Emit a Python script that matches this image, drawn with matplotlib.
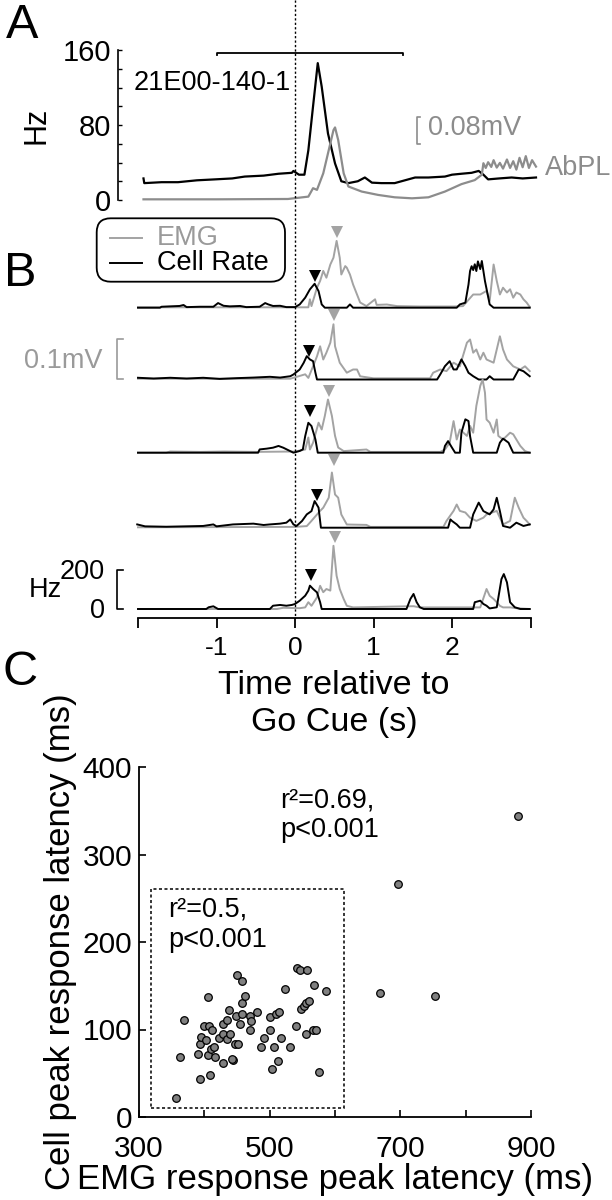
import matplotlib
matplotlib.use("Agg")
import matplotlib.pyplot as plt
import matplotlib.transforms as mtransforms
from matplotlib.patches import FancyBboxPatch, Rectangle
from matplotlib.lines import Line2D

plt.rcParams['font.family'] = ['Liberation Sans', 'DejaVu Sans']

# ---------------- DATA ----------------
# Panel A: average cell rate (Hz) and EMG (mV) for AbPL
a_cell_t = [-1.93, -1.92, -1.70, -1.49, -1.25, -1.02, -0.80, -0.64, -0.40, -0.21, -0.04, -0.02, 0.05, 0.12,
            0.17, 0.23, 0.29, 0.34, 0.42, 0.51, 0.59, 0.68, 0.80, 0.89, 0.98, 1.10, 1.27, 1.40, 1.53, 1.70,
            1.91, 2.00, 2.12, 2.25, 2.34, 2.40, 2.46, 2.60, 2.76, 2.90, 3.07]
a_cell_hz = [23, 18, 19, 19, 21, 22, 23, 25, 26, 28, 29, 31, 27, 27,
             53, 100, 146, 121, 71, 39, 20, 18, 20, 24, 18.5, 18, 18, 21, 24, 24,
             25, 27, 28, 29, 31, 27, 22, 23, 24, 23, 24]
a_emg_t = [-1.93, -1.00, -0.09, 0.17, 0.23, 0.28, 0.36, 0.42, 0.49, 0.51, 0.55, 0.62, 0.68, 0.85, 1.06,
           1.27, 1.49, 1.70, 1.91, 2.12, 2.29, 2.38, 2.40, 2.43, 2.46, 2.50, 2.53, 2.57, 2.61, 2.65,
           2.70, 2.74, 2.78, 2.82, 2.86, 2.90, 2.94, 2.98, 3.02, 3.07]
a_emg_mv = [0.002, 0.002, 0.003, 0.010, 0.035, 0.030, 0.079, 0.138, 0.207, 0.215, 0.178, 0.079, 0.040, 0.025, 0.015,
            0.008, 0.005, 0.008, 0.025, 0.047, 0.059, 0.075, 0.109, 0.095, 0.112, 0.098, 0.118, 0.096, 0.110, 0.093,
            0.120, 0.095, 0.115, 0.090, 0.125, 0.097, 0.130, 0.095, 0.118, 0.099]
a_window = [-1.0, 1.37]

# Panel B: five single trials, cell rate (Hz) and EMG (mV)
b1_cell_t = [-2.00, -1.72, -1.70, -1.59, -1.47, -1.42, -1.38, -1.21, -1.04, -0.98, -0.91, -0.83, -0.70, -0.62,
             -0.45, -0.38, -0.34, -0.28, -0.19, -0.11, 0.00, 0.06, 0.13, 0.19, 0.25, 0.30, 0.34, 0.38, 0.66,
             0.70, 0.74, 2.06, 2.10, 2.17, 2.21, 2.23, 2.25, 2.27, 2.29, 2.31, 2.33, 2.36, 2.38, 2.42, 2.48, 2.53, 2.99]
b1_cell_hz = [0, 0, 5, 7, 9, 14, 3, 5, 5, 24, 10, 7, 9, 3,
              5, 24, 17, 9, 10, 3, 3, 17, 52, 95, 124, 86, 17, 0, 0,
              17, 0, 0, 17, 26, 120, 190, 215, 195, 225, 190, 240, 200, 242, 138, 17, 0, 0]
b1_emg_t = [-2.00, 0.17, 0.19, 0.21, 0.28, 0.32, 0.36, 0.40, 0.45, 0.49, 0.53, 0.57, 0.59, 0.64, 0.66, 0.70,
            0.74, 0.79, 0.83, 0.91, 1.02, 1.04, 1.17, 1.30, 1.59, 2.02, 2.14, 2.27, 2.36, 2.44, 2.48, 2.53,
            2.57, 2.61, 2.65, 2.70, 2.74, 2.78, 2.82, 2.87, 2.91, 2.95, 2.99]
b1_emg_mv = [0.001, 0.001, 0.021, 0.004, 0.050, 0.067, 0.092, 0.075, 0.108, 0.125, 0.167, 0.125, 0.083, 0.104, 0.100, 0.083,
             0.058, 0.033, 0.013, 0.004, 0.021, 0.007, 0.008, 0.004, 0.003, 0.003, 0.004, 0.033, 0.033, 0.042, 0.017, 0.108,
             0.067, 0.033, 0.050, 0.038, 0.046, 0.025, 0.038, 0.033, 0.021, 0.013, 0.002]

b2_cell_t = [-2.00, -1.80, -1.59, -1.38, -1.17, -0.96, -0.74, -0.53, -0.32, -0.19, -0.06, -0.02, 0.06, 0.11, 0.15,
             0.19, 0.23, 0.26, 0.28, 1.81, 1.85, 1.91, 1.97, 2.02, 2.06, 2.12, 2.17, 2.21, 2.27, 2.34, 2.44, 2.48,
             2.53, 2.78, 2.85, 2.91, 2.99]
b2_cell_hz = [9, 5, 9, 5, 9, 3, 7, 10, 14, 10, 17, 26, 52, 86, 121,
              104, 95, 35, 0, 0, 26, 69, 95, 52, 52, 104, 69, 35, 17, 0, 0, 17,
              0, 0, 52, 43, 17]
b2_emg_t = [-2.00, -0.06, 0.13, 0.17, 0.23, 0.28, 0.32, 0.36, 0.40, 0.45, 0.49, 0.51, 0.57, 0.66, 0.74, 0.79,
            0.83, 1.00, 1.72, 1.76, 1.85, 1.93, 2.02, 2.10, 2.19, 2.23, 2.27, 2.31, 2.36, 2.40, 2.44, 2.53,
            2.61, 2.65, 2.70, 2.78, 2.87, 2.93, 2.99]
b2_emg_mv = [0.002, 0.002, 0.013, 0.004, 0.033, 0.058, 0.083, 0.050, 0.067, 0.092, 0.138, 0.083, 0.042, 0.017, 0.025, 0.025,
             0.008, 0.003, 0.003, 0.017, 0.025, 0.021, 0.042, 0.033, 0.092, 0.100, 0.067, 0.075, 0.050, 0.067, 0.050, 0.042,
             0.108, 0.075, 0.050, 0.033, 0.025, 0.033, 0.021]

b3_cell_t = [-2.00, -0.47, -0.45, -0.36, -0.28, -0.21, -0.15, -0.09, -0.02, 0.06, 0.10, 0.13, 0.17, 0.21, 0.26,
             0.29, 1.89, 1.91, 1.95, 2.00, 2.04, 2.10, 2.12, 2.17, 2.21, 2.23, 2.27, 2.57, 2.61, 2.65, 2.72,
             2.76, 2.78, 2.99]
b3_cell_hz = [0, 0, 17, 21, 26, 35, 26, 14, 0, 9, 17, 86, 155, 138, 69,
              0, 0, 35, 60, 26, 0, 0, 104, 173, 164, 86, 0, 0, 52, 73, 52,
              17, 0, 0]
b3_emg_t = [-2.00, -1.64, -1.59, -1.20, -0.90, -0.50, 0.00, 0.13, 0.17, 0.19, 0.23, 0.30, 0.34, 0.38, 0.42, 0.47,
            0.51, 0.55, 0.62, 0.91, 0.96, 1.85, 1.91, 1.97, 2.02, 2.06, 2.10, 2.19, 2.23, 2.27, 2.31, 2.36,
            2.39, 2.42, 2.44, 2.48, 2.53, 2.57, 2.59, 2.65, 2.74, 2.78, 2.82, 2.87, 2.93, 2.99]
b3_emg_mv = [0.000, 0.000, 0.003, 0.002, 0.003, 0.002, 0.003, 0.008, 0.038, 0.008, 0.025, 0.075, 0.058, 0.092, 0.133, 0.092,
             0.042, 0.013, 0.004, 0.008, 0.002, 0.002, 0.008, 0.025, 0.079, 0.033, 0.058, 0.042, 0.067, 0.050, 0.117, 0.167,
             0.183, 0.150, 0.083, 0.075, 0.050, 0.083, 0.042, 0.033, 0.050, 0.046, 0.033, 0.017, 0.004, 0.000]

b4_cell_t = [-2.01, -1.98, -1.91, -1.64, -1.17, -1.04, -1.00, -0.79, -0.53, -0.40, -0.32, -0.19, -0.11, -0.06, -0.02,
             0.02, 0.09, 0.15, 0.21, 0.25, 0.30, 0.33, 1.95, 1.98, 2.00, 2.06, 2.10, 2.23, 2.27, 2.34, 2.40,
             2.48, 2.53, 2.57, 2.61, 2.65, 2.74, 2.82, 2.91, 2.99]
b4_cell_hz = [17, 14, 7, 5, 9, 17, 7, 17, 21, 14, 17, 21, 26, 43, 17,
              9, 35, 69, 86, 138, 104, 0, 0, 43, 35, 17, 0, 0, 69, 130, 86,
              69, 95, 155, 86, 9, 0, 26, 9, 17]
b4_emg_t = [-2.00, 0.00, 0.15, 0.21, 0.28, 0.32, 0.36, 0.43, 0.47, 0.51, 0.55, 0.59, 0.66, 0.91, 0.96, 1.89,
            1.93, 2.02, 2.06, 2.10, 2.17, 2.23, 2.31, 2.40, 2.44, 2.57, 2.61, 2.65, 2.74, 2.80, 2.85, 2.91,
            2.95, 2.99]
b4_emg_mv = [0.001, 0.002, 0.004, 0.017, 0.033, 0.042, 0.050, 0.075, 0.138, 0.083, 0.075, 0.033, 0.008, 0.007, 0.002, 0.002,
             0.017, 0.042, 0.058, 0.042, 0.038, 0.025, 0.017, 0.025, 0.033, 0.042, 0.025, 0.008, 0.017, 0.075, 0.050, 0.025,
             0.017, 0.008]

b5_cell_t = [-2.00, -1.13, -1.10, -1.04, -0.98, -0.32, -0.28, -0.19, -0.11, -0.04, 0.00, 0.06, 0.13, 0.17, 0.19,
             0.23, 0.28, 0.32, 0.34, 1.42, 1.47, 1.51, 1.55, 1.59, 1.64, 2.27, 2.29, 2.36, 2.40, 2.44, 2.48,
             2.57, 2.63, 2.66, 2.70, 2.74, 2.80, 2.87, 2.99]
b5_cell_hz = [0, 0, 9, 14, 0, 0, 17, 21, 17, 21, 26, 43, 69, 95, 121,
              104, 86, 35, 0, 0, 52, 78, 35, 9, 0, 0, 35, 43, 26, 17, 3,
              9, 155, 181, 138, 35, 9, 0, 0]
b5_emg_t = [-2.00, -0.23, -0.15, 0.06, 0.13, 0.17, 0.21, 0.28, 0.32, 0.36, 0.40, 0.45, 0.49, 0.53, 0.57, 0.62,
            0.66, 0.74, 1.51, 1.59, 2.36, 2.44, 2.48, 2.53, 2.57, 2.61, 2.65, 2.74, 2.82, 2.99]
b5_emg_mv = [0.000, 0.000, 0.003, 0.002, 0.004, 0.017, 0.008, 0.029, 0.058, 0.042, 0.050, 0.046, 0.158, 0.083, 0.050, 0.025,
             0.008, 0.004, 0.007, 0.004, 0.004, 0.050, 0.033, 0.025, 0.017, 0.008, 0.004, 0.004, 0.002, 0.000]

b_cell_peak_t = [0.25, 0.18, 0.19, 0.28, 0.21]
b_cell_peak_hz = [166, 150, 218, 169, 176]
b_emg_peak_t = [0.53, 0.50, 0.43, 0.50, 0.51]
b_emg_peak_mv = [0.188, 0.160, 0.153, 0.168, 0.181]

b_xticks = [-2, -1, 0, 1, 2, 3]
b_xticklabels = ["", "-1", "0", "1", "2", ""]

# Panel C: peak latencies (ms)
emg_latency = [880, 697, 669, 753,
               356, 363, 369, 393, 408, 391, 405, 417, 428, 444, 443, 393, 395, 402, 400, 407,
               412, 406, 410, 415, 423, 429, 428, 434, 435, 439, 437, 447, 452, 448, 455, 457,
               462, 457, 450, 457, 470, 471, 470, 481, 487, 492, 500, 501, 504, 506, 509, 514,
               512, 518, 524, 531, 540, 542, 546, 557, 548, 553, 555, 560, 568, 586, 556, 566,
               571, 576]
cell_latency = [344, 266, 142, 138,
                22, 69, 111, 43, 48, 72, 71, 69, 62, 65, 66, 83, 92, 88, 104, 104,
                100, 137, 78, 80, 90, 95, 106, 111, 89, 95, 122, 83, 84, 116, 106, 130,
                138, 118, 162, 155, 116, 110, 99, 120, 80, 90, 114, 99, 55, 80, 118, 120,
                64, 90, 146, 80, 104, 170, 168, 168, 123, 127, 130, 133, 151, 144, 95, 100,
                100, 52]
inset_box = [319, 614, 10, 261]

# ---------------- FIGURE ----------------
W, H = 612, 1200
fig = plt.figure(figsize=(6.12, 12), dpi=100)


def rect(l, t, r, b):
    return [l / W, 1 - b / H, (r - l) / W, (b - t) / H]


GRAY_B = '#a3a3a3'
GRAY_A = '#8c8c8c'
GRAY_T = '#9a9a9a'
FS = 19.5

# px per second along time
T0_PX, PX_S = 295.0, 78.5

# ---- Panel A ----
axA = fig.add_axes(rect(118.3, 50, T0_PX + 3.1 * PX_S, 200))
axA.set_xlim(-(T0_PX - 118.3) / PX_S, 3.1)
axA.set_ylim(0, 160)
for s in ['top', 'right', 'bottom']:
    axA.spines[s].set_visible(False)
axA.spines['left'].set_linewidth(1.2)
axA.set_xticks([])
axA.set_yticks([0, 80, 160])
axA.set_yticks(range(0, 161, 20), minor=True)
axA.tick_params(axis='y', which='both', direction='in', length=3, width=1, labelsize=21, pad=5)
axA.set_ylabel('Hz', fontsize=22, labelpad=8)
axA.patch.set_visible(False)
axA.plot(a_cell_t, a_cell_hz, color='black', lw=1.6, zorder=3, clip_on=False)
axA2 = axA.twinx()
axA2.set_ylim(0, 150 / 337.5)
axA2.axis('off')
axA2.plot(a_emg_t, a_emg_mv, color=GRAY_A, lw=1.6, zorder=2, clip_on=False)
# time window bracket
axA.plot([a_window[0], a_window[0], a_window[1], a_window[1]], [154.5, 157.2, 157.2, 154.5],
         color='black', lw=1.3, clip_on=False)
axA.text(-2.051, 125, '21E00-140-1', fontsize=FS, ha='left', va='center')
# EMG scale bar 0.08 mV
axA2.plot([1.59, 1.554, 1.554, 1.59], [0.166, 0.166, 0.246, 0.246], color=GRAY_A, lw=1.2, clip_on=False)
axA2.text(1.694, 0.212, '0.08mV', fontsize=FS, color=GRAY_A, ha='left', va='center')
axA2.text(3.185, 0.096, 'AbPL', fontsize=FS, color=GRAY_A, ha='left', va='center')

# ---- Panel B ----
b_baselines = [307.7, 379.5, 452.7, 527.7, 609.0]
cell_t = [b1_cell_t, b2_cell_t, b3_cell_t, b4_cell_t, b5_cell_t]
cell_hz = [b1_cell_hz, b2_cell_hz, b3_cell_hz, b4_cell_hz, b5_cell_hz]
emg_t = [b1_emg_t, b2_emg_t, b3_emg_t, b4_emg_t, b5_emg_t]
emg_mv = [b1_emg_mv, b2_emg_mv, b3_emg_mv, b4_emg_mv, b5_emg_mv]
HZ_PX = 38.6 / 200.0
MV_PX = 40.0 / 0.1
BL, BR = T0_PX - 2 * PX_S, T0_PX + 3 * PX_S
row_axes = []
for i, base in enumerate(b_baselines):
    ax = fig.add_axes(rect(BL, base - 75, BR, base + 5))
    ax.set_xlim(-2, 3)
    ax.set_ylim(-5 / HZ_PX, 75 / HZ_PX)
    ax.axis('off')
    ax2 = ax.twinx()
    ax2.set_ylim(-5 / MV_PX, 75 / MV_PX)
    ax2.axis('off')
    ax2.plot(emg_t[i], emg_mv[i], color=GRAY_B, lw=1.4, clip_on=False, zorder=2)
    ax2.plot([b_emg_peak_t[i]], [b_emg_peak_mv[i]], marker='v', ms=8.5, color=GRAY_B,
             markeredgewidth=0, clip_on=False)
    ax3 = ax.twinx()
    ax3.set_ylim(-5 / HZ_PX, 75 / HZ_PX)
    ax3.axis('off')
    ax3.plot(cell_t[i], cell_hz[i], color='black', lw=1.4, clip_on=False, zorder=3)
    ax3.plot([b_cell_peak_t[i]], [b_cell_peak_hz[i]], marker='v', ms=8.5, color='black',
             markeredgewidth=0, clip_on=False)
    row_axes.append((ax, ax2, ax3))

# scale bars
ax5 = row_axes[4][2]
ax5.plot([-2.191, -2.268, -2.268, -2.191], [0, 0, 200, 200], color='black', lw=1.2, clip_on=False)
ax5.text(-2.42, 190, '200', fontsize=FS, ha='right', va='center')
ax5.text(-2.42, -8, '0', fontsize=FS, ha='right', va='center')
ax5.text(-2.968, 98, 'Hz', fontsize=FS, ha='right', va='center')
ax2b = row_axes[1][1]
ax2b.plot([-2.191, -2.268, -2.268, -2.191], [0, 0, 0.1, 0.1], color=GRAY_T, lw=1.2, clip_on=False)
ax2b.text(-2.446, 0.045, '0.1mV', fontsize=FS, color=GRAY_T, ha='right', va='center')

# time axis
axX = fig.add_axes(rect(BL, 612, BR, 617.7))
axX.set_xlim(-2, 3)
axX.set_ylim(0, 1)
for s in ['top', 'right', 'left']:
    axX.spines[s].set_visible(False)
axX.spines['bottom'].set_linewidth(1.3)
axX.patch.set_visible(False)
axX.set_yticks([])
axX.set_xticks(b_xticks)
axX.set_xticklabels(b_xticklabels)
axX.tick_params(axis='x', direction='out', length=7, width=1.3, labelsize=19, pad=6)

# go cue line
tr = mtransforms.blended_transform_factory(axX.transData, fig.transFigure)
axX.plot([0, 0], [1.0, 1 - 617.7 / H], transform=tr, color='black', lw=1.0,
         linestyle=(0, (1.6, 1.6)), clip_on=False, zorder=5)

fig.text(334 / W, 1 - 704 / H, 'Time relative to\nGo Cue (s)', fontsize=24.5,
         ha='center', va='center', linespacing=1.28)

# legend box
leg_box = FancyBboxPatch((0.967, (H - 281.7) / 100), 1.883, 0.634,
                         boxstyle='round,pad=0,rounding_size=0.14',
                         transform=fig.dpi_scale_trans, facecolor='white',
                         edgecolor='black', lw=1.3)
fig.patches.append(leg_box)
fig.lines.append(Line2D([110 / W, 141.7 / W], [1 - 238.3 / H] * 2, transform=fig.transFigure,
                        color=GRAY_B, lw=1.4))
fig.lines.append(Line2D([110 / W, 141.7 / W], [1 - 263.3 / H] * 2, transform=fig.transFigure,
                        color='black', lw=1.4))
fig.text(156.7 / W, 1 - 238.3 / H, 'EMG', fontsize=FS, color=GRAY_T, ha='left', va='center')
fig.text(156.7 / W, 1 - 263.3 / H, 'Cell Rate', fontsize=FS, color='black', ha='left', va='center')

# panel letters
fig.text(22 / W, 1 - 25 / H, 'A', fontsize=35, ha='center', va='center')
fig.text(20 / W, 1 - 273 / H, 'B', fontsize=35, ha='center', va='center')
fig.text(20 / W, 1 - 672 / H, 'C', fontsize=35, ha='center', va='center')

# ---- Panel C ----
axC = fig.add_axes(rect(139, 767, 531, 1117))
axC.set_xlim(300, 900)
axC.set_ylim(0, 400)
for s in ['top', 'right']:
    axC.spines[s].set_visible(False)
axC.spines['left'].set_linewidth(1.3)
axC.spines['bottom'].set_linewidth(1.3)
axC.set_xticks(range(300, 901, 100))
axC.set_xticklabels(['300', '', '500', '', '700', '', '900'])
axC.set_yticks(range(0, 401, 100))
axC.tick_params(axis='both', direction='in', length=5, width=1.2, labelsize=21.5)
axC.tick_params(axis='x', pad=13)
axC.tick_params(axis='y', pad=5)
axC.patch.set_visible(False)
axC.add_patch(Rectangle((inset_box[0], inset_box[2]), inset_box[1] - inset_box[0],
                        inset_box[3] - inset_box[2], fill=False, edgecolor='black',
                        lw=1.1, linestyle=(0, (2, 1.6))))
axC.scatter(emg_latency, cell_latency, s=30, facecolor='#808080', edgecolor='black',
            linewidth=0.9, zorder=3, clip_on=False)
axC.text(516, 362, 'r²=0.69,', fontsize=FS, ha='left', va='center')
axC.text(516, 328, 'p<0.001', fontsize=FS, ha='left', va='center')
axC.text(345, 237, 'r²=0.5,', fontsize=FS, ha='left', va='center')
axC.text(345, 202, 'p<0.001', fontsize=FS, ha='left', va='center')
axC.set_xlabel('EMG response peak latency (ms)', fontsize=25, labelpad=0)
axC.set_ylabel('Cell peak response latency (ms)', fontsize=25, labelpad=4)

fig.savefig('out.png', dpi=100)
